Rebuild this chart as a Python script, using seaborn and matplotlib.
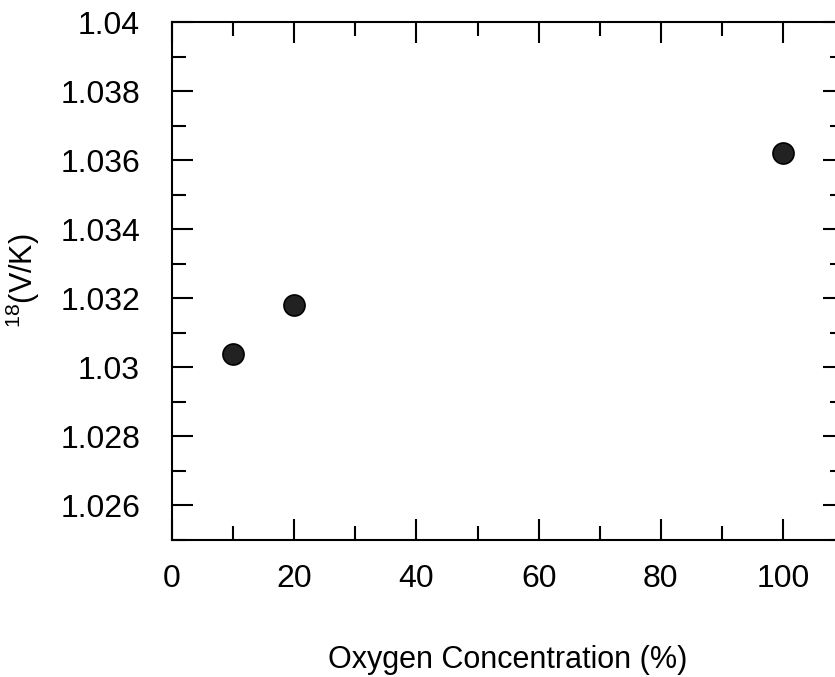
import matplotlib
matplotlib.use("Agg")
import matplotlib.pyplot as plt
import seaborn as sns
import pandas as pd
from matplotlib.ticker import FuncFormatter

# valori
oxygen = [10, 20, 100]
kie = [1.0304, 1.0318, 1.0362]

x_major = [0, 20, 40, 60, 80, 100]
x_minor = [10, 30, 50, 70, 90, 110]
y_major = [1.026, 1.028, 1.03, 1.032, 1.034, 1.036, 1.038, 1.04]
y_minor = [1.025, 1.027, 1.029, 1.031, 1.033, 1.035, 1.037, 1.039]

df = pd.DataFrame({"oxygen": oxygen, "kie": kie})

sns.set_style("ticks")
plt.rcParams["font.family"] = ["Liberation Sans", "DejaVu Sans"]
plt.rcParams["mathtext.fontset"] = "custom"
plt.rcParams["mathtext.rm"] = "Liberation Sans"
plt.rcParams["text.color"] = "black"
plt.rcParams["axes.labelcolor"] = "black"
plt.rcParams["xtick.labelcolor"] = "black"
plt.rcParams["ytick.labelcolor"] = "black"

fig = plt.figure(figsize=(8.35, 6.77), dpi=100)
ax = fig.add_axes([0.206, 0.2024, 0.805, 0.765])

sns.scatterplot(data=df, x="oxygen", y="kie", ax=ax, s=230, color="#222222",
                edgecolor="black", linewidth=1.2, zorder=3, clip_on=False)

ax.set_xlim(0, 110)
ax.set_ylim(1.025, 1.04)
ax.set_xticks(x_major)
ax.set_xticks(x_minor, minor=True)
ax.set_yticks(y_major)
ax.set_yticks(y_minor, minor=True)
ax.yaxis.set_major_formatter(FuncFormatter(lambda v, p: f"{v:g}"))

for s in ax.spines.values():
    s.set_linewidth(1.5)
    s.set_color("black")

ax.tick_params(which="both", direction="in", top=True, right=True, width=1.5, color="black")
ax.tick_params(which="major", length=15)
ax.tick_params(which="minor", length=10)
ax.tick_params(axis="x", which="major", labelsize=23, pad=17)
ax.tick_params(axis="y", which="major", labelsize=23, pad=23)

ax.set_xlabel("Oxygen Concentration (%)", fontsize=22, labelpad=37)
ax.set_ylabel(r"$\mathregular{^{18}}$(V/K)", fontsize=22, labelpad=13)

fig.savefig("out.png", dpi=100)
